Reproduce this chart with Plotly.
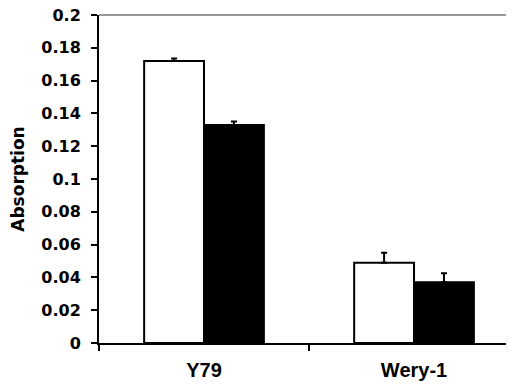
import plotly.graph_objects as go

categories = ["Y79", "Wery-1"]
series_a = [0.172, 0.049]
series_a_err = [0.0015, 0.006]
series_b = [0.133, 0.037]
series_b_err = [0.002, 0.0055]
y_ticks = [0, 0.02, 0.04, 0.06, 0.08, 0.1, 0.12, 0.14, 0.16, 0.18, 0.2]
y_tick_labels = ["0", "0.02", "0.04", "0.06", "0.08", "0.1", "0.12", "0.14", "0.16", "0.18", "0.2"]

fig = go.Figure()
fig.add_trace(go.Bar(
    x=categories, y=series_a, marker=dict(color="white", line=dict(color="black", width=2)),
    error_y=dict(type="data", array=series_a_err, arrayminus=[0, 0], symmetric=False,
                 color="black", thickness=2, width=3),
    showlegend=False))
fig.add_trace(go.Bar(
    x=categories, y=series_b, marker=dict(color="black", line=dict(color="black", width=2)),
    error_y=dict(type="data", array=series_b_err, arrayminus=[0, 0], symmetric=False,
                 color="black", thickness=2, width=3),
    showlegend=False))

fig.update_layout(
    width=506, height=376,
    margin=dict(l=91, r=0, t=7, b=41, autoexpand=False),
    paper_bgcolor="white", plot_bgcolor="white",
    barmode="group", bargap=0.43, bargroupgap=0,
    font=dict(family="Liberation Sans, Arial, sans-serif", color="black"),
    xaxis=dict(
        type="category", range=[-0.5, 1.476], showgrid=False, zeroline=False,
        showline=True, linecolor="black", linewidth=2,
        ticks="outside", tickson="boundaries", ticklen=6, tickwidth=2, tickcolor="black",
        tickfont=dict(family="Liberation Sans, Arial, sans-serif", size=20, weight="bold"),
        ticklabelstandoff=8,
    ),
    yaxis=dict(
        range=[0, 0.2], showgrid=False, zeroline=False,
        showline=True, linecolor="black", linewidth=2,
        ticks="outside", ticklen=6, tickwidth=2, tickcolor="black",
        tickvals=y_ticks, ticktext=y_tick_labels, ticklabeloverflow="allow",
        tickfont=dict(family="DejaVu Sans, sans-serif", size=16, weight="bold"),
        ticklabelstandoff=7,
        title=dict(text="Absorption",
                   font=dict(family="DejaVu Sans, sans-serif", size=17, weight="bold"),
                   standoff=12),
    ),
    shapes=[dict(type="line", xref="paper", yref="paper", x0=0, x1=1, y0=1, y1=1,
                 line=dict(color="#777777", width=1.5))],
)

fig.write_html("out.html")
